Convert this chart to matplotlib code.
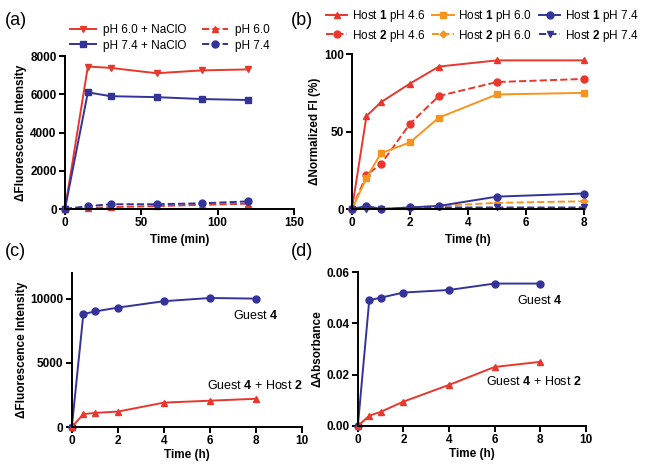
import matplotlib.pyplot as plt

plt.rcParams['font.family'] = ['Liberation Sans', 'DejaVu Sans']
plt.rcParams['mathtext.fontset'] = 'custom'
plt.rcParams['mathtext.bf'] = 'Liberation Sans:bold'
plt.rcParams['mathtext.rm'] = 'Liberation Sans'

RED = '#e8372c'
BLUE = '#33339a'
ORANGE = '#f7941d'

# (a) fluorescence vs time (min)
t_a = [0, 15, 30, 60, 90, 120]
ph60_naclo = [0, 7450, 7380, 7100, 7250, 7300]
ph74_naclo = [0, 6100, 5900, 5850, 5750, 5700]
ph60 = [0, 50, 100, 150, 220, 280]
ph74 = [0, 150, 250, 250, 300, 400]

# (b) normalized FI vs time (h)
t_b = [0, 0.5, 1, 2, 3, 5, 8]
h1_46 = [0, 60, 69, 81, 92, 96, 96]
h2_46 = [0, 22, 29, 55, 73, 82, 84]
h1_60 = [0, 20, 36, 43, 59, 74, 75]
h2_60 = [0, 1, 0, 1, 2, 4, 5]
h1_74 = [0, 2, 0, 1, 2, 8, 10]
h2_74 = [0, 0, 0, 0, 1, 1, 1]

# (c) and (d)
t_cd = [0, 0.5, 1, 2, 4, 6, 8]
guest4_fl = [0, 8800, 9000, 9300, 9800, 10050, 10000]
guest4_host2_fl = [0, 1000, 1100, 1200, 1900, 2050, 2200]
guest4_abs = [0, 0.049, 0.050, 0.052, 0.053, 0.0555, 0.0555]
guest4_host2_abs = [0, 0.004, 0.0055, 0.0095, 0.016, 0.023, 0.025]

fig = plt.figure(figsize=(6.53, 4.65), dpi=100)
ax_a = fig.add_axes([0.0995, 0.5505, 0.3505, 0.329])
ax_b = fig.add_axes([0.539, 0.5505, 0.355, 0.333])
ax_c = fig.add_axes([0.110, 0.0817, 0.3525, 0.3313])
ax_d = fig.add_axes([0.548, 0.0839, 0.349, 0.3311])


def style(ax):
    for s in ['top', 'right']:
        ax.spines[s].set_visible(False)
    for s in ['left', 'bottom']:
        ax.spines[s].set_linewidth(1.4)
    ax.tick_params(width=1.4, length=4, labelsize=8.5, pad=2)
    for lab in ax.get_xticklabels() + ax.get_yticklabels():
        lab.set_fontweight('bold')


kw = dict(lw=1.4, ms=5, clip_on=False)

# (a)
ax_a.plot(t_a, ph60_naclo, color=RED, marker='v', label='pH 6.0 + NaClO', **kw)
ax_a.plot(t_a, ph74_naclo, color=BLUE, marker='s', label='pH 7.4 + NaClO', **kw)
ax_a.plot(t_a, ph60, color=RED, marker='^', ls='--', label='pH 6.0', **kw)
ax_a.plot(t_a, ph74, color=BLUE, marker='o', ls='--', label='pH 7.4', **kw)
ax_a.set_xlim(0, 150)
ax_a.set_ylim(0, 8000)
ax_a.set_xticks([0, 50, 100, 150])
ax_a.set_yticks([0, 2000, 4000, 6000, 8000])
ax_a.set_xlabel('Time (min)', fontsize=8.5, fontweight='bold', labelpad=3)
ax_a.set_ylabel('ΔFluorescence Intensity', fontsize=8.5, fontweight='bold', labelpad=2)
style(ax_a)
ax_a.legend(ncol=2, loc='upper left', bbox_to_anchor=(70 / 653, 1 - 24 / 465),
            bbox_transform=fig.transFigure, frameon=False,
            fontsize=8.5, handlelength=2.2, columnspacing=1.3, handletextpad=0.6,
            labelspacing=0.3, borderaxespad=0, borderpad=0)

# (b)
ax_b.plot(t_b, h1_46, color=RED, marker='^', label=r'Host $\mathbf{1}$ pH 4.6', **kw)
ax_b.plot(t_b, h2_46, color=RED, marker='o', ls='--', label=r'Host $\mathbf{2}$ pH 4.6', **kw)
ax_b.plot(t_b, h1_60, color=ORANGE, marker='s', label=r'Host $\mathbf{1}$ pH 6.0', **kw)
ax_b.plot(t_b, h2_60, color=ORANGE, marker='D', ms=3.5, ls='--', lw=1.4,
          clip_on=False, label=r'Host $\mathbf{2}$ pH 6.0')
ax_b.plot(t_b, h1_74, color=BLUE, marker='o', label=r'Host $\mathbf{1}$ pH 7.4', **kw)
ax_b.plot(t_b, h2_74, color=BLUE, marker='v', ls='--', label=r'Host $\mathbf{2}$ pH 7.4', **kw)
ax_b.set_xlim(0, 8)
ax_b.set_ylim(0, 100)
ax_b.set_xticks([0, 2, 4, 6, 8])
ax_b.set_yticks([0, 50, 100])
ax_b.set_xlabel('Time (h)', fontsize=8.5, fontweight='bold', labelpad=3)
ax_b.set_ylabel('ΔNormalized FI (%)', fontsize=8.5, fontweight='bold', labelpad=2)
style(ax_b)
ax_b.legend(ncol=3, loc='upper left', bbox_to_anchor=(326 / 653, 1 - 8 / 465),
            bbox_transform=fig.transFigure, frameon=False,
            fontsize=8.5, handlelength=1.8, columnspacing=0.6, handletextpad=0.4,
            labelspacing=0.3, borderaxespad=0, borderpad=0)

# (c)
ax_c.plot(t_cd, guest4_fl, color=BLUE, marker='o', **kw)
ax_c.plot(t_cd, guest4_host2_fl, color=RED, marker='^', **kw)
ax_c.set_xlim(0, 10)
ax_c.set_ylim(0, 12000)
ax_c.set_xticks([0, 2, 4, 6, 8, 10])
ax_c.set_yticks([0, 5000, 10000])
ax_c.set_xlabel('Time (h)', fontsize=8.5, fontweight='bold', labelpad=1)
ax_c.set_ylabel('ΔFluorescence Intensity', fontsize=8.5, fontweight='bold', labelpad=2)
ax_c.text(8.0, 8660, r'Guest $\mathbf{4}$', fontsize=9, ha='center', va='center')
ax_c.text(7.95, 3230, r'Guest $\mathbf{4}$ + Host $\mathbf{2}$', fontsize=9, ha='center', va='center')
style(ax_c)

# (d)
ax_d.plot(t_cd, guest4_abs, color=BLUE, marker='o', **kw)
ax_d.plot(t_cd, guest4_host2_abs, color=RED, marker='^', **kw)
ax_d.set_xlim(0, 10)
ax_d.set_ylim(0, 0.06)
ax_d.set_xticks([0, 2, 4, 6, 8, 10])
ax_d.set_yticks([0, 0.02, 0.04, 0.06])
ax_d.set_yticklabels(['0.00', '0.02', '0.04', '0.06'])
ax_d.set_xlabel('Time (h)', fontsize=8.5, fontweight='bold', labelpad=1)
ax_d.set_ylabel('ΔAbsorbance', fontsize=8.5, fontweight='bold', labelpad=2)
ax_d.text(8.0, 0.049, r'Guest $\mathbf{4}$', fontsize=9, ha='center', va='center')
ax_d.text(7.7, 0.0175, r'Guest $\mathbf{4}$ + Host $\mathbf{2}$', fontsize=9, ha='center', va='center')
style(ax_d)

# panel letters
for lbl, x, y in [('(a)', 0.008, 0.955), ('(b)', 0.445, 0.955),
                  ('(c)', 0.008, 0.46), ('(d)', 0.445, 0.46)]:
    fig.text(x, y, lbl, fontsize=13, va='center')

fig.savefig('out.png', dpi=100)
